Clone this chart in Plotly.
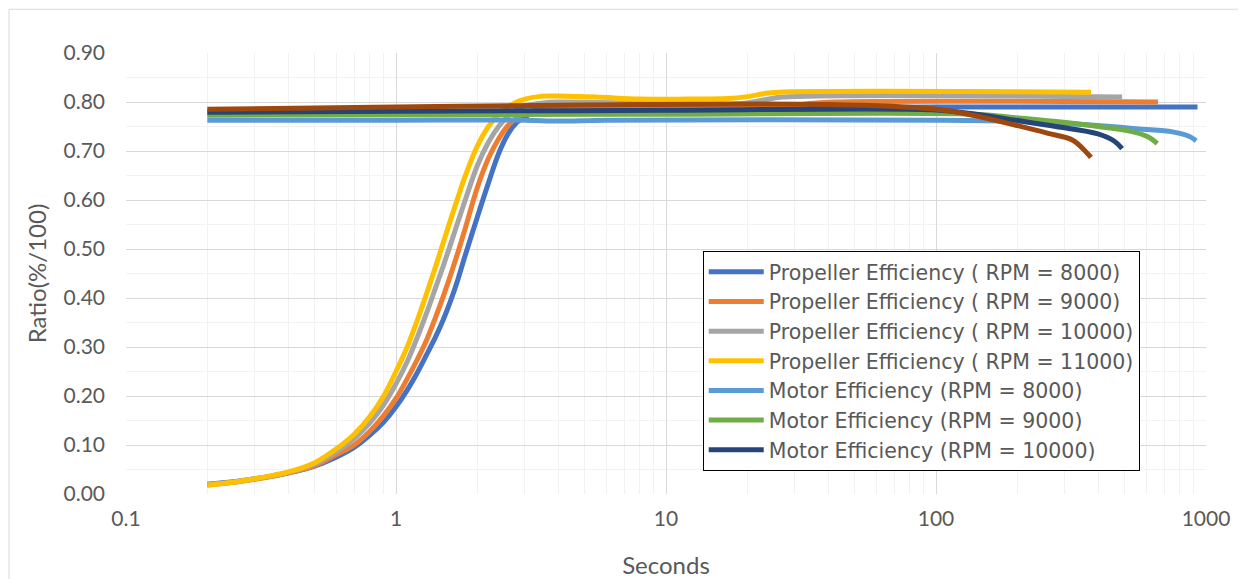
import plotly.graph_objects as go

# ---- data ----
p8000_x = [0.2, 0.25, 0.3, 0.35, 0.4, 0.5, 0.6, 0.7, 0.8, 0.9, 1.0, 1.1, 1.2, 1.3, 1.4, 1.5, 1.6, 1.7, 1.8, 2.0, 2.2, 2.4, 2.6, 2.8, 3.0, 3.5, 4.0, 6, 20, 60, 100, 930]
p8000_y = [0.02, 0.025, 0.031, 0.037, 0.043, 0.057, 0.075, 0.095, 0.12, 0.147, 0.178, 0.212, 0.248, 0.285, 0.32, 0.357, 0.397, 0.44, 0.485, 0.565, 0.635, 0.695, 0.735, 0.758, 0.77, 0.782, 0.785, 0.786, 0.787, 0.789, 0.79, 0.79]

p9000_x = [0.2, 0.25, 0.3, 0.35, 0.4, 0.5, 0.6, 0.7, 0.8, 0.9, 1.0, 1.1, 1.2, 1.3, 1.4, 1.5, 1.6, 1.7, 1.8, 2.0, 2.2, 2.4, 2.6, 2.8, 3.0, 3.5, 4.0, 10, 25, 33, 42, 664]
p9000_y = [0.019, 0.024, 0.03, 0.036, 0.043, 0.058, 0.08, 0.10, 0.128, 0.16, 0.195, 0.235, 0.275, 0.315, 0.36, 0.405, 0.45, 0.495, 0.54, 0.625, 0.685, 0.725, 0.752, 0.768, 0.777, 0.787, 0.79, 0.79, 0.79, 0.796, 0.80, 0.80]

p10000_x = [0.2, 0.25, 0.3, 0.35, 0.4, 0.5, 0.6, 0.7, 0.8, 0.9, 1.0, 1.1, 1.2, 1.3, 1.4, 1.5, 1.6, 1.7, 1.8, 2.0, 2.2, 2.4, 2.6, 2.8, 3.0, 3.5, 4.0, 10, 19, 23, 27, 489]
p10000_y = [0.019, 0.024, 0.031, 0.037, 0.044, 0.061, 0.086, 0.113, 0.145, 0.182, 0.225, 0.27, 0.32, 0.37, 0.42, 0.467, 0.513, 0.557, 0.598, 0.67, 0.718, 0.75, 0.771, 0.785, 0.792, 0.798, 0.80, 0.797, 0.797, 0.804, 0.81, 0.81]

p11000_x = [0.2, 0.25, 0.3, 0.35, 0.4, 0.5, 0.6, 0.7, 0.8, 0.9, 1.0, 1.1, 1.2, 1.3, 1.4, 1.5, 1.6, 1.7, 1.8, 2.0, 2.2, 2.4, 2.6, 2.8, 3.0, 3.5, 4.0, 5.5, 8, 12, 17, 20, 23, 26, 375]
p11000_y = [0.018, 0.024, 0.031, 0.038, 0.045, 0.064, 0.092, 0.122, 0.158, 0.20, 0.25, 0.30, 0.355, 0.41, 0.463, 0.515, 0.563, 0.607, 0.647, 0.71, 0.75, 0.775, 0.79, 0.80, 0.806, 0.812, 0.812, 0.81, 0.806, 0.806, 0.807, 0.811, 0.817, 0.82, 0.82]

m8000_x = [0.2, 1, 3, 4, 6, 100, 196, 278, 398, 566, 752, 865, 920]
m8000_y = [0.763, 0.763, 0.763, 0.761, 0.763, 0.763, 0.761, 0.757, 0.752, 0.745, 0.739, 0.73, 0.721]

m9000_x = [0.2, 1, 10, 137, 196, 278, 398, 527, 609, 660]
m9000_y = [0.773, 0.774, 0.775, 0.775, 0.768, 0.76, 0.75, 0.74, 0.729, 0.715]

m10000_x = [0.2, 1, 10, 97, 137, 196, 278, 398, 458, 489]
m10000_y = [0.779, 0.781, 0.783, 0.784, 0.776, 0.763, 0.75, 0.735, 0.72, 0.705]

m11000_x = [0.2, 1, 5, 40, 97, 137, 196, 260, 321, 364, 375]
m11000_y = [0.785, 0.79, 0.794, 0.795, 0.786, 0.773, 0.753, 0.736, 0.722, 0.695, 0.687]

series = [
    ("Propeller Efficiency ( RPM = 8000)", p8000_x, p8000_y, "#4472C4", True),
    ("Propeller Efficiency ( RPM = 9000)", p9000_x, p9000_y, "#ED7D31", True),
    ("Propeller Efficiency ( RPM = 10000)", p10000_x, p10000_y, "#A5A5A5", True),
    ("Propeller Efficiency ( RPM = 11000)", p11000_x, p11000_y, "#FFC000", True),
    ("Motor Efficiency (RPM = 8000)", m8000_x, m8000_y, "#5B9BD5", True),
    ("Motor Efficiency (RPM = 9000)", m9000_x, m9000_y, "#70AD47", True),
    ("Motor Efficiency (RPM = 10000)", m10000_x, m10000_y, "#264478", True),
    ("Motor Efficiency (RPM = 11000)", m11000_x, m11000_y, "#9E480E", False),
]

x_ticks = [0.1, 1, 10, 100, 1000]
x_tick_text = ["0.1", "1", "10", "100", "1000"]

FONT = "Lato, 'Open Sans', sans-serif"
TXT = "#595959"

fig = go.Figure()
for name, xs, ys, col, show in series:
    fig.add_trace(go.Scatter(
        x=xs, y=ys, name=name, mode="lines", showlegend=show,
        line=dict(color=col, width=5, shape="spline", smoothing=1.0),
    ))

minor_x = [m * 10 ** e for e in range(-1, 3) for m in range(2, 10)]

fig.update_layout(
    width=1246, height=579,
    margin=dict(l=118, r=48, t=45, b=91),
    paper_bgcolor="white", plot_bgcolor="white",
    font=dict(family=FONT, color=TXT),
    showlegend=True,
    legend=dict(
        x=0.534, y=0.551, xanchor="left", yanchor="top",
        bgcolor="white", bordercolor="black", borderwidth=1,
        font=dict(size=20.5, color=TXT, family="'DejaVu Sans', sans-serif"),
        itemwidth=55, tracegroupgap=0, entrywidth=388,
    ),
    xaxis=dict(
        type="log", range=[-1, 3],
        tickvals=x_ticks, ticktext=x_tick_text,
        showgrid=True, gridcolor="#D9D9D9", gridwidth=1,
        minor=dict(tickvals=minor_x, showgrid=True, gridcolor="#F2F2F2", gridwidth=1, ticks=""),
        ticks="", zeroline=False, showline=False,
        tickfont=dict(size=21, color=TXT),
        ticklabelstandoff=10,
        title=dict(text="Seconds", font=dict(size=24, color=TXT), standoff=28),
    ),
    yaxis=dict(
        range=[0, 0.9], dtick=0.1, tick0=0, tickformat=".2f",
        showgrid=True, gridcolor="#D9D9D9", gridwidth=1,
        minor=dict(dtick=0.05, showgrid=True, gridcolor="#F2F2F2", gridwidth=1, ticks=""),
        ticks="", zeroline=False, showline=False,
        tickfont=dict(size=21, color=TXT),
        ticklabelstandoff=20,
        title=dict(text="Ratio(%/100)", font=dict(size=24, color=TXT), standoff=10),
    ),
    shapes=[dict(
        type="rect", xref="paper", yref="paper",
        x0=-0.1083, x1=1.048, y0=-0.25, y1=1.0992,
        line=dict(color="#D9D9D9", width=1), fillcolor="rgba(0,0,0,0)", layer="below",
    )],
)

fig.write_html("out.html")
